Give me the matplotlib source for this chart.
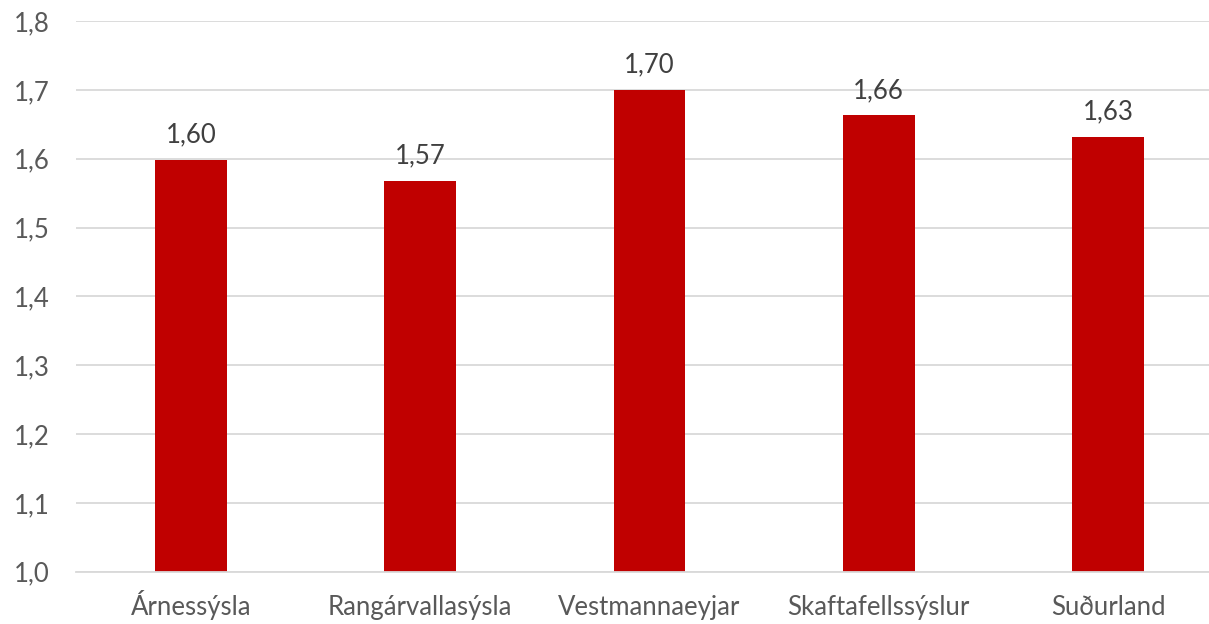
import matplotlib
matplotlib.use("Agg")
import matplotlib.pyplot as plt
import numpy as np

categories = ["Árnessýsla", "Rangárvallasýsla", "Vestmannaeyjar", "Skaftafellssýslur", "Suðurland"]
values = [1.598, 1.568, 1.700, 1.663, 1.632]
value_labels = ["1,60", "1,57", "1,70", "1,66", "1,63"]
yticks = [1.0, 1.1, 1.2, 1.3, 1.4, 1.5, 1.6, 1.7, 1.8]
ytick_labels = ["1,0", "1,1", "1,2", "1,3", "1,4", "1,5", "1,6", "1,7", "1,8"]

plt.rcParams['font.family'] = ['Lato', 'DejaVu Sans']
text_color = "#595959"

W, H = 1209, 624
fig = plt.figure(figsize=(W / 100, H / 100), dpi=100)
left_px, right_px = 76.4, 1222.6
top_px, bottom_px = 21.0, 571.7
ax = fig.add_axes([left_px / W, 1 - bottom_px / H, (right_px - left_px) / W, (bottom_px - top_px) / H])

x = np.arange(len(categories))
ax.bar(x, np.array(values) - 1.0, bottom=1.0, width=0.314, color="#C00000", zorder=3)
for xi, v, lab in zip(x, values, value_labels):
    ax.annotate(lab, (xi, v), xytext=(0, 12.5), textcoords="offset points",
                ha="center", va="baseline", fontsize=18.5, color="#404040")

ax.set_xlim(-0.5, len(categories) - 0.5)
ax.set_ylim(1.0, 1.8)
ax.set_yticks(yticks)
ax.set_yticklabels(ytick_labels)
ax.set_xticks(x)
ax.set_xticklabels(categories)
ax.tick_params(axis="both", length=0, labelsize=18.5, colors=text_color)
ax.tick_params(axis="y", pad=19)
ax.tick_params(axis="x", pad=31)
for t in ax.xaxis.get_major_ticks():
    t.label1.set_verticalalignment("baseline")
ax.yaxis.grid(True, color="#D9D9D9", linewidth=1.3, zorder=0)
for s in ["top", "right", "left"]:
    ax.spines[s].set_visible(False)
ax.spines["bottom"].set_color("#D9D9D9")
ax.spines["bottom"].set_linewidth(1.3)
ax.spines["bottom"].set_zorder(4)

fig.savefig("out.png", dpi=100)
